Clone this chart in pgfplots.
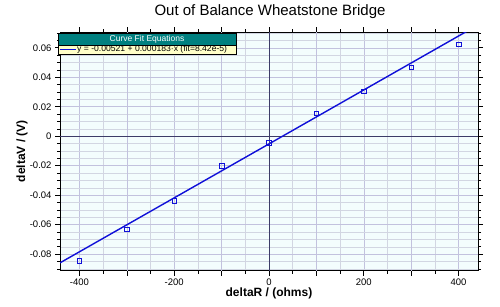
\documentclass[border=0pt]{standalone}
\usepackage{pgfplots}
\pgfplotsset{compat=1.18}
\usepackage{fontspec}
\setmainfont{Liberation Sans}
\definecolor{bg}{HTML}{F3FDFD}
\definecolor{gridc}{HTML}{D2D6E2}
\definecolor{gridd}{HTML}{C2C2DE}
\definecolor{zc}{HTML}{3C3C68}
\definecolor{fitblue}{HTML}{1010D8}
\definecolor{teal2}{HTML}{008080}
\definecolor{lyellow}{HTML}{FFFFC8}
\begin{document}
\begin{tikzpicture}[x=1pt,y=1pt]
\useasboundingbox (0,0) rectangle (500,306);
\begin{axis}[at={(60pt,35.5pt)}, anchor=south west, scale only axis,
  width=418pt, height=238.5pt,
  xmin=-441, xmax=441, ymin=-0.0911, ymax=0.0707,
  axis background/.style={fill=bg},
  xtick distance=200, minor x tick num=3,
  ytick distance=0.02, minor y tick num=3,
  grid=both, major grid style={draw=gridd, line width=0.5pt}, minor grid style={draw=gridc, line width=0.5pt},
  extra x ticks={-300,-100,100,300}, extra x tick labels={},
  extra x tick style={grid=major, major grid style={draw=gridd}},
  tick align=outside, tick pos=both,
  major tick length=5pt, minor tick length=3pt,
  tick style={black, line width=0.6pt},
  axis line style={black, line width=0.8pt},
  ticklabel style={font=\fontsize{9.5}{11}\selectfont},
  /pgf/number format/assume math mode=true,
  scaled y ticks=false,
  yticklabel style={/pgf/number format/fixed, /pgf/number format/precision=2},
  xlabel={deltaR / (ohms)}, ylabel={deltaV / (V)},
  label style={font=\fontsize{12}{14}\selectfont\bfseries},
  xlabel style={at={(axis description cs:0.5,-0.097)}, anchor=center},
  ylabel style={at={(axis description cs:-0.091,0.5)}, anchor=center},
  clip=true,
]
\draw[zc, line width=0.8pt] (axis cs:0,-0.0911) -- (axis cs:0,0.0707);
\draw[zc, line width=0.8pt] (axis cs:-441,0) -- (axis cs:441,0);
\addplot[fitblue, line width=1.4pt, no marks] coordinates {(-441,-0.08591) (441,0.07549)};
\addplot[only marks, mark=square, mark size=2.3pt, mark options={fitblue, line width=0.7pt}] coordinates {
(-400,-0.0845) (-300,-0.0633) (-200,-0.0438) (-100,-0.0203) (0,-0.0043)
(100,0.0156) (200,0.0305) (300,0.0467) (400,0.0623)};
\end{axis}
\node[font=\fontsize{15}{18}\selectfont, inner sep=0pt] at (270,294) {Out of Balance Wheatstone Bridge};
% legend box
\fill[teal2] (58.5,261) rectangle (236,273);
\fill[lyellow] (58.5,252) rectangle (236,261);
\draw[black, line width=0.6pt] (58.5,252) rectangle (236,273);
\draw[black, line width=0.4pt] (58.5,261) -- (236,261);
\node[white, font=\fontsize{8.5}{10}\selectfont, inner sep=0pt] at (147,267) {Curve Fit Equations};
\draw[fitblue, line width=1.5pt] (59.5,256.5) -- (76,256.5);
\node[black, font=\fontsize{8.6}{10}\selectfont, inner sep=0pt, anchor=west] at (77,256.5) {y = -0.00521 + 0.000183·x (fit=8.42e-5)};
\end{tikzpicture}
\end{document}
